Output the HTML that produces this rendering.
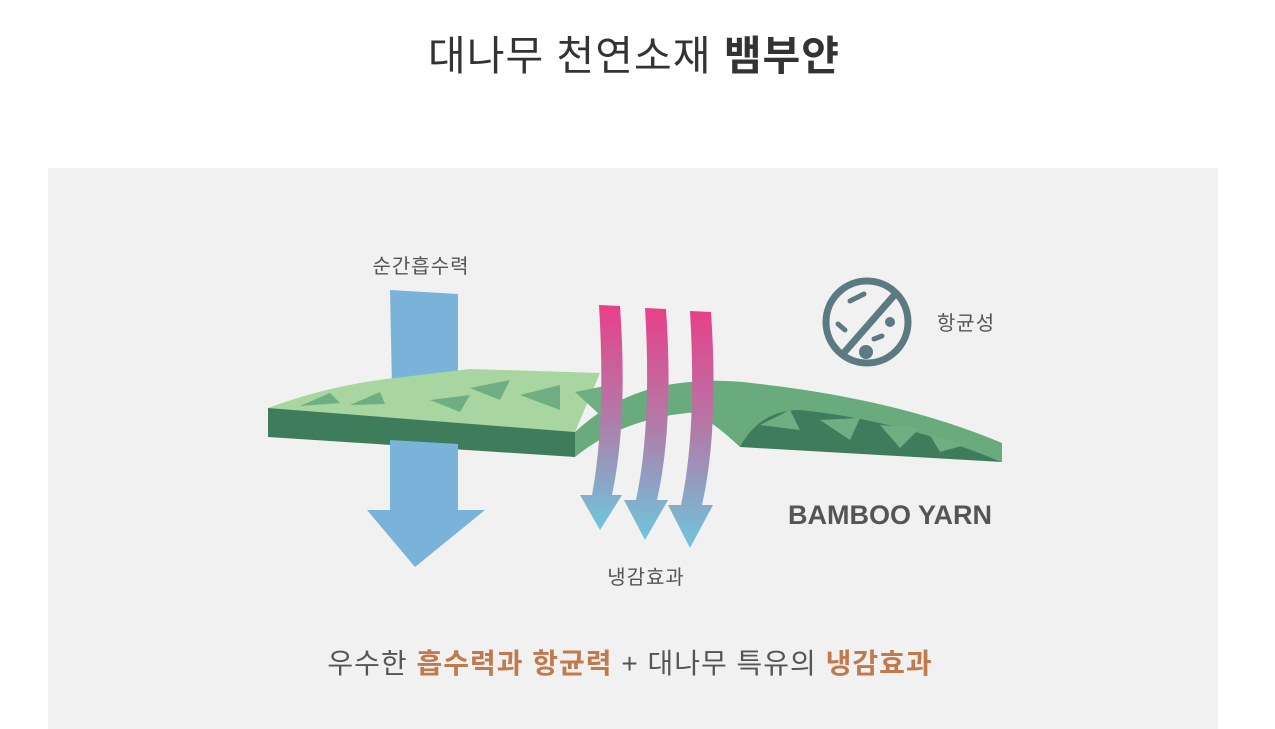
<!DOCTYPE html>
<html><head><meta charset="utf-8"><style>
body{margin:0;width:1275px;height:729px;background:#fff;overflow:hidden;font-family:"Liberation Sans","Noto Sans CJK KR",sans-serif}
</style></head><body>
<svg width="1275" height="729" xmlns="http://www.w3.org/2000/svg" style="position:absolute;left:0;top:0">
<defs>
<linearGradient id="pg" x1="0" y1="0" x2="0" y2="1"><stop offset="0" stop-color="#e8408a"/><stop offset="0.5" stop-color="#b27aa8"/><stop offset="1" stop-color="#6ec6dc"/></linearGradient>
</defs>
<text x="634" y="70" text-anchor="middle" font-size="41" letter-spacing="1" fill="#333" font-family="Liberation Sans,Noto Sans CJK KR,sans-serif">대나무 천연소재 <tspan font-weight="bold">뱀부얀</tspan></text>
<rect x="48" y="168" width="1170" height="561" fill="#f1f1f1"/>
<path d="M390 290 L458 294 L458 385 Q424 398 392 388 Z" fill="#7ab3d9"/>
<path d="M268 408 Q330 385 395 378 L470 369 L600 373 L575 432 Z" fill="#a8d5a0"/>
<path d="M575 432 Q620 390 680 383 Q720 378 760 384 Q900 400 1002 443 L1002 462 Q900 420 800 420 L740 447 Q700 410 687 413 Q620 420 575 457 Z" fill="#6aab7e"/>
<path d="M740 447 L1002 462 Q900 420 800 410 Q760 410 740 447 Z" fill="#3f7c5c"/>
<g fill="#6fae82">
<path d="M300 406 L330 393 L340 403 Z"/><path d="M350 405 L380 392 L385 404 Z"/><path d="M470 388 L510 380 L500 400 Z"/><path d="M520 395 L560 385 L560 410 Z"/><path d="M430 400 L470 395 L460 412 Z"/><path d="M760 425 L790 410 L800 430 Z"/><path d="M820 420 L860 418 L850 440 Z"/><path d="M880 425 L920 428 L900 448 Z"/><path d="M930 435 L965 445 L940 452 Z"/><path d="M575 392 L610 385 L600 415 Z"/>
</g>
<path d="M268 408 L575 432 L575 457 L268 437 Z" fill="#3f7c5c"/>
<path d="M390 440 L458 444 L458 510 L485 510 L415 567 L367 510 L390 510 Z" fill="#7ab3d9"/>
<g fill="url(#pg)">
<path d="M599 305 L620 306 Q628 420 612 495 L622 495 L600 530 L580 495 L592 495 Q606 420 599 305 Z"/>
<path d="M645 308 L666 309 Q674 425 657 500 L668 500 L645 540 L624 500 L636 500 Q652 425 645 308 Z"/>
<path d="M690 311 L711 312 Q719 430 702 505 L713 505 L690 548 L668 505 L681 505 Q697 430 690 311 Z"/>
</g>
<circle cx="867" cy="322" r="41" fill="none" stroke="#5c7a82" stroke-width="7"/>
<line x1="897" y1="292" x2="842" y2="355" stroke="#5c7a82" stroke-width="7"/>
<g stroke="#5c7a82" stroke-width="5" stroke-linecap="round"><line x1="850" y1="301" x2="864" y2="294"/><line x1="838" y1="324" x2="845" y2="330"/><line x1="874" y1="339" x2="882" y2="336"/></g>
<circle cx="866" cy="352" r="7" fill="#5c7a82"/><circle cx="890" cy="322" r="5" fill="#5c7a82"/>
<g font-size="20" fill="#555" letter-spacing="1">
<text x="421" y="273" text-anchor="middle">순간흡수력</text>
<text x="966" y="330" text-anchor="middle">항균성</text>
<text x="646" y="584" text-anchor="middle">냉감효과</text>
</g>
<text x="890" y="524" text-anchor="middle" font-size="27" font-weight="bold" fill="#555">BAMBOO YARN</text>
<text x="630" y="673" text-anchor="middle" font-size="28" letter-spacing="1" fill="#555">우수한 <tspan fill="#c07a4e" font-weight="bold">흡수력과 항균력</tspan> + 대나무 특유의 <tspan fill="#c07a4e" font-weight="bold">냉감효과</tspan></text>
</svg>
</body></html>
